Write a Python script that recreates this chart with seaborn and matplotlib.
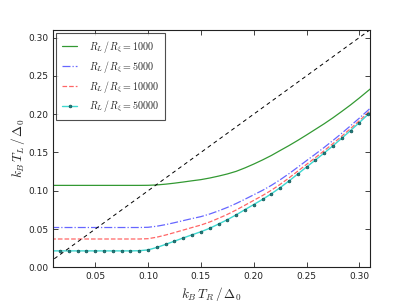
import seaborn as sns
import matplotlib.pyplot as plt
import pandas as pd
import numpy as np

sns.set_style("ticks")
plt.rcParams['font.family'] = ['DejaVu Sans']
plt.rcParams['mathtext.fontset'] = 'cm'
plt.rcParams['xtick.direction'] = 'in'
plt.rcParams['ytick.direction'] = 'in'

# k_B T_R / Delta_0 sample points (one per marker on the 50000 curve)
t_r = [i / 120 for i in range(1, 39)]

# k_B T_L / Delta_0 for each R_L / R_xi
tl_1000 = [0.107] * 11 + [
    0.1071, 0.1076, 0.1086, 0.1099, 0.1114, 0.1130, 0.1145, 0.1166, 0.1191,
    0.1219, 0.1253, 0.1298, 0.1348, 0.1402, 0.1460, 0.1525, 0.1589, 0.1657,
    0.1728, 0.1801, 0.1874, 0.1952, 0.2035, 0.2120, 0.2211, 0.2306, 0.2400]
tl_5000 = [0.052] * 11 + [
    0.0523, 0.0537, 0.0558, 0.0583, 0.0610, 0.0637, 0.0662, 0.0696, 0.0737,
    0.0782, 0.0833, 0.0889, 0.0947, 0.1005, 0.1070, 0.1143, 0.1222, 0.1307,
    0.1393, 0.1478, 0.1565, 0.1656, 0.1750, 0.1848, 0.1948, 0.2052, 0.2160]
tl_10000 = [0.037] * 11 + [
    0.0374, 0.0394, 0.0422, 0.0454, 0.0487, 0.0520, 0.0552, 0.0592, 0.0640,
    0.0691, 0.0748, 0.0811, 0.0874, 0.0937, 0.1006, 0.1083, 0.1167, 0.1255,
    0.1344, 0.1432, 0.1522, 0.1615, 0.1712, 0.1811, 0.1914, 0.2020, 0.2128]
tl_50000 = [0.0215] * 10 + [
    0.0217, 0.0228, 0.0260, 0.0300, 0.0342, 0.0384, 0.0425, 0.0465, 0.0510,
    0.0565, 0.0622, 0.0685, 0.0753, 0.0820, 0.0887, 0.0960, 0.1040, 0.1127,
    0.1218, 0.1310, 0.1400, 0.1492, 0.1587, 0.1685, 0.1786, 0.1890, 0.1997,
    0.2107]

diag = [0.0, 0.32]

fig = plt.figure(figsize=(4.11, 3.08), dpi=100)
ax = fig.add_axes([0.129, 0.132, 0.771, 0.771])

sns.lineplot(x=t_r, y=tl_1000, ax=ax, color='green', lw=0.9, alpha=0.8,
             label=r'$R_L\,/\,R_\xi=1000$')
sns.lineplot(x=t_r, y=tl_5000, ax=ax, color='blue', lw=0.9, alpha=0.6,
             linestyle='-.', label=r'$R_L\,/\,R_\xi=5000$')
sns.lineplot(x=t_r, y=tl_10000, ax=ax, color='red', lw=0.9, alpha=0.6,
             linestyle='--', label=r'$R_L\,/\,R_\xi=10000$')
sns.lineplot(x=t_r, y=tl_50000, ax=ax, color='#40d8d0', lw=1.0,
             marker='o', markersize=2.0, markerfacecolor='#1a8080',
             markeredgecolor='#105050', markeredgewidth=0.5,
             label=r'$R_L\,/\,R_\xi=50000$')
ax.plot(diag, diag, color='black', lw=0.7, linestyle=(0, (4, 3.5)))

ax.set_xlim(0.01, 0.31)
ax.set_ylim(0.0, 0.31)
ax.set_xticks([0.05, 0.10, 0.15, 0.20, 0.25, 0.30])
ax.set_yticks([0.0, 0.05, 0.10, 0.15, 0.20, 0.25, 0.30])
ax.xaxis.set_major_formatter(plt.FormatStrFormatter('%.2f'))
ax.yaxis.set_major_formatter(plt.FormatStrFormatter('%.2f'))
ax.tick_params(labelsize=6.5, length=3.5, width=0.6, top=True, right=True,
               colors='#222222', pad=3)
for s in ax.spines.values():
    s.set_linewidth(0.8)
    s.set_color('#222222')

ax.set_xlabel(r'$k_B\,T_R\,/\,\Delta_0$', fontsize=9.5, labelpad=3)
ax.set_ylabel(r'$k_B\,T_L\,/\,\Delta_0$', fontsize=9.5, labelpad=1)

leg = ax.legend(loc='upper left', fontsize=7.2, frameon=True, fancybox=False,
                handlelength=1.5, handletextpad=1.2, borderpad=0.6,
                labelspacing=0.4, borderaxespad=0.3)
leg.get_frame().set_edgecolor('#222222')
leg.get_frame().set_linewidth(0.8)

fig.savefig('out.png', dpi=100)
plt.close(fig)
